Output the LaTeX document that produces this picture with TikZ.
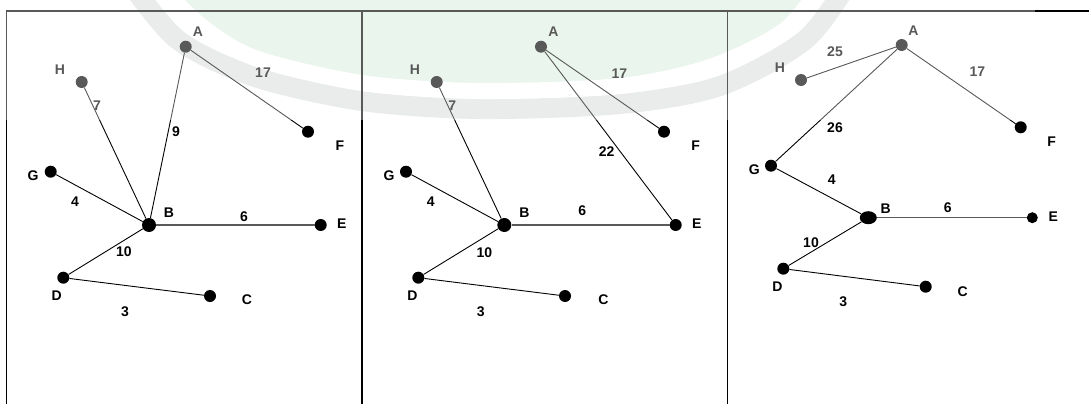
\documentclass[tikz,border=0pt]{standalone}
\usepackage{fontspec}
\setmainfont{Liberation Sans}
\usetikzlibrary{shapes.geometric}
\definecolor{logogreen}{RGB}{224,240,229}
\definecolor{logogray}{RGB}{222,227,224}
\definecolor{hline}{RGB}{90,90,90}
\begin{document}
\begin{tikzpicture}[x=1pt,y=-1pt,
  vtx/.style={circle,fill=black,inner sep=0pt,minimum size=12pt},
  bigvtx/.style={circle,fill=black,inner sep=0pt,minimum size=14pt},
  lab/.style={font=\bfseries\fontsize{14}{15}\selectfont,inner sep=0pt},
  link/.style={line width=0.9pt,draw=black},
  hlink/.style={line width=1.4pt,draw=hline},
  panelline/.style={line width=1.8pt,draw=black}]
\useasboundingbox (0,0) rectangle (1089,404);
\fill[white] (0,0) rectangle (1089,404);
% watermark
\begin{scope}
\clip (0,0) rectangle (1035,120);
\fill[logogreen] plot[smooth] coordinates {(155,-20) (200,25) (255,58) (362,83) (480,91) (620,86) (710,67) (785,30) (825,-20)} -- cycle;
\draw[line width=20pt,logogray] plot[smooth] coordinates {(128,-20) (178,40) (255,77) (362,101) (480,109) (620,104) (720,86) (805,40) (850,-20)};
\draw[line width=16pt,white] plot[smooth] coordinates {(155,-20) (200,25) (255,58) (362,83) (480,91) (620,86) (710,67) (785,30) (825,-20)};
\end{scope}
% frame
\draw[panelline] (6.5,404) -- (6.5,11) -- (1089,11);
\draw[line width=1.6pt] (362,11) -- (362,404);
\draw[line width=1.6pt] (727.5,11) -- (727.5,404);

% ---------- panel 1 ----------
\node[vtx] (p1A) at (185.7,46.7) {};
\node[vtx] (p1H) at (81.7,82) {};
\node[vtx] (p1F) at (308,131.7) {};
\node[vtx] (p1G) at (50.7,171.7) {};
\node[bigvtx] (p1B) at (149,225) {};
\node[vtx] (p1E) at (320.7,225) {};
\node[vtx] (p1D) at (63.3,277.7) {};
\node[vtx] (p1C) at (210,296) {};
\draw[link] (p1H) -- (p1B);
\draw[link] (p1A) -- (p1B);
\draw[link] (p1A) -- (p1F);
\draw[link] (p1G) -- (p1B);
\draw[hlink] (p1B) -- (p1E);
\draw[link] (p1B) -- (p1D);
\draw[link] (p1D) -- (p1C);
\node[lab] (p1lA) at (198,32) {A};
\node[lab] (p1lH) at (60,70) {H};
\node[lab] (p1lF) at (340,146) {F};
\node[lab] (p1lG) at (33,176) {G};
\node[lab] (p1lB) at (169,213) {B};
\node[lab] (p1lE) at (341.7,224) {E};
\node[lab] (p1lD) at (56.7,296) {D};
\node[lab] (p1lC) at (247,300) {C};
\node[lab] (p1w7) at (97,106) {7};
\node[lab] (p1w17) at (263,73) {17};
\node[lab] (p1w9) at (176,131.7) {9};
\node[lab] (p1w4) at (75,201.7) {4};
\node[lab] (p1w6) at (244,216.7) {6};
\node[lab] (p1w10) at (124,251.7) {10};
\node[lab] (p1w3) at (125,311.7) {3};

% ---------- panel 2 ----------
\node[vtx] (p2A) at (541,46.7) {};
\node[vtx] (p2H) at (436.7,82) {};
\node[vtx] (p2F) at (664,131.7) {};
\node[vtx] (p2G) at (406,171.7) {};
\node[bigvtx] (p2B) at (504.3,225) {};
\node[vtx] (p2E) at (675.7,225) {};
\node[vtx] (p2D) at (418.3,277.7) {};
\node[vtx] (p2C) at (565,296) {};
\draw[link] (p2H) -- (p2B);
\draw[link] (p2A) -- (p2F);
\draw[link] (p2A) -- (p2E);
\draw[link] (p2G) -- (p2B);
\draw[hlink] (p2B) -- (p2E);
\draw[link] (p2B) -- (p2D);
\draw[link] (p2D) -- (p2C);
\node[lab] (p2lA) at (553.3,31.7) {A};
\node[lab] (p2lH) at (415,70) {H};
\node[lab] (p2lF) at (695.7,146) {F};
\node[lab] (p2lG) at (389,176) {G};
\node[lab] (p2lB) at (524.3,213) {B};
\node[lab] (p2lE) at (696.7,224) {E};
\node[lab] (p2lD) at (412.3,296) {D};
\node[lab] (p2lC) at (603.3,300) {C};
\node[lab] (p2w7) at (452.3,106) {7};
\node[lab] (p2w17) at (619.3,74) {17};
\node[lab] (p2w22) at (606.7,152) {22};
\node[lab] (p2w4) at (430.7,201.7) {4};
\node[lab] (p2w6) at (582.3,211) {6};
\node[lab] (p2w10) at (484.3,253) {10};
\node[lab] (p2w3) at (480.7,312) {3};

% ---------- panel 3 ----------
\node[vtx] (p3A) at (901.7,45) {};
\node[vtx] (p3H) at (801,80) {};
\node[vtx] (p3F) at (1020.7,127.3) {};
\node[vtx] (p3G) at (771,165.7) {};
\node[ellipse,fill=black,inner sep=0pt,minimum width=17pt,minimum height=13pt] (p3B) at (868.3,217.7) {};
\node[vtx,minimum size=11pt] (p3E) at (1032.3,217.7) {};
\node[vtx] (p3D) at (783.3,268.7) {};
\node[vtx] (p3C) at (925.7,286.7) {};
\draw[link] (p3H) -- (p3A);
\draw[link] (p3A) -- (p3G);
\draw[link] (p3A) -- (p3F);
\draw[link] (p3G) -- (p3B);
\draw[hlink] (p3B) -- (p3E);
\draw[link] (p3B) -- (p3D);
\draw[link] (p3D) -- (p3C);
\node[lab] (p3lA) at (913.3,30.7) {A};
\node[lab] (p3lH) at (780,68) {H};
\node[lab] (p3lF) at (1051.7,141.7) {F};
\node[lab] (p3lG) at (754.3,170) {G};
\node[lab] (p3lB) at (885.7,208.3) {B};
\node[lab] (p3lE) at (1053.3,217) {E};
\node[lab] (p3lD) at (777.3,286.7) {D};
\node[lab] (p3lC) at (962.7,291.3) {C};
\node[lab] (p3w25) at (835,52) {25};
\node[lab] (p3w17) at (977.3,72) {17};
\node[lab] (p3w26) at (835,127.3) {26};
\node[lab] (p3w4) at (831.7,179.3) {4};
\node[lab] (p3w6) at (947.7,207.7) {6};
\node[lab] (p3w10) at (811,242.7) {10};
\node[lab] (p3w3) at (843.3,302) {3};

% watermark veil over the upper strip
\fill[white,opacity=0.35] (0,0) rectangle (1035,120);
\end{tikzpicture}
\end{document}
